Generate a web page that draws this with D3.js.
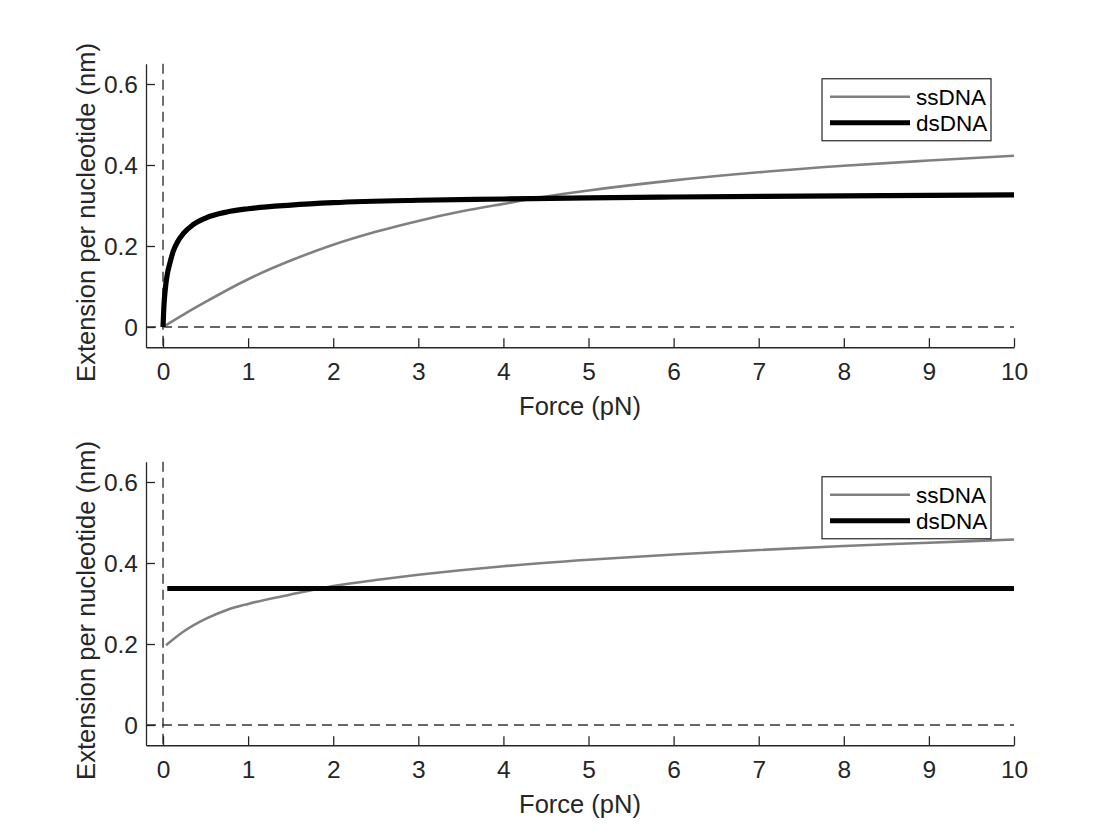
<!DOCTYPE html>
<html>
<head>
<meta charset="utf-8">
<script src="https://cdn.jsdelivr.net/npm/d3@7"></script>
<style>
  body { margin: 0; background: #fff; }
  svg { display: block; }
</style>
</head>
<body>
<div id="chart"></div>
<script>
// Extension per nucleotide vs force, two panels (ssDNA / dsDNA)

// Top panel: ssDNA curve
let ssForceTop = [0, 0.25, 0.5, 1, 1.5, 2, 2.5, 3, 3.5, 4, 4.5, 5, 6, 7, 8, 9, 10];
let ssExtTop = [0, 0.032, 0.062, 0.118, 0.164, 0.203, 0.235, 0.262, 0.285, 0.304, 0.322, 0.337, 0.362, 0.382, 0.398, 0.411, 0.423];

// Top panel: dsDNA curve
let dsForceTop = [0, 0.01, 0.025, 0.05, 0.08, 0.12, 0.17, 0.24, 0.35, 0.5, 0.75, 1, 1.5, 2, 3, 4, 5, 6, 8, 10];
let dsExtTop = [0, 0.05, 0.09, 0.13, 0.157, 0.187, 0.21, 0.231, 0.252, 0.269, 0.284, 0.292, 0.301, 0.307, 0.313, 0.316, 0.319, 0.321, 0.324, 0.326];

// Bottom panel: ssDNA curve
let ssForceBot = [0.035, 0.25, 0.5, 0.75, 1, 1.5, 2, 2.5, 3, 3.5, 4, 5, 6, 7, 8, 9, 10];
let ssExtBot = [0.197, 0.232, 0.262, 0.284, 0.299, 0.322, 0.343, 0.358, 0.371, 0.382, 0.392, 0.408, 0.421, 0.432, 0.442, 0.450, 0.458];

// Bottom panel: dsDNA is flat
let dsForceBot = [0.05, 10];
let dsExtBot = [0.337, 0.337];

// Axis ticks
let xTicks = [0, 1, 2, 3, 4, 5, 6, 7, 8, 9, 10];
let yTicks = [0, 0.2, 0.4, 0.6];
let seriesNames = ['ssDNA', 'dsDNA'];

let svgWidth = 1120;
let svgHeight = 840;

let axisColor = '#262626';
let fontFamily = '"Liberation Sans", Arial, Helvetica, sans-serif';

let svg = d3.select('#chart')
  .append('svg')
  .attr('width', svgWidth)
  .attr('height', svgHeight);

function drawPanel(top, ssF, ssE, dsF, dsE) {
  let left = 146;
  let width = 868;
  let height = 283.5;

  let g = svg.append('g')
    .attr('transform', `translate(${left}, ${top})`);

  let x = d3.scaleLinear().domain([-0.2, 10]).range([0, width]);
  let y = d3.scaleLinear().domain([-0.05, 0.65]).range([height, 0]);

  // dashed zero lines
  g.append('line')
    .attr('x1', x(0)).attr('x2', x(0))
    .attr('y1', 0).attr('y2', height)
    .attr('stroke', '#333').attr('stroke-width', 1.4)
    .attr('stroke-dasharray', '10,6');

  g.append('line')
    .attr('x1', 0).attr('x2', width)
    .attr('y1', y(0)).attr('y2', y(0))
    .attr('stroke', '#333').attr('stroke-width', 1.4)
    .attr('stroke-dasharray', '10,6');

  // axes, ticks point inward like matlab
  let xAxis = d3.axisBottom(x)
    .tickValues(xTicks)
    .tickSize(-9)
    .tickSizeOuter(0)
    .tickPadding(15)
    .tickFormat(d3.format('d'));

  let yAxis = d3.axisLeft(y)
    .tickValues(yTicks)
    .tickSize(-9)
    .tickSizeOuter(0)
    .tickPadding(8)
    .tickFormat(d => d === 0 ? '0' : d3.format('.1f')(d));

  let gx = g.append('g')
    .attr('transform', `translate(0, ${height})`)
    .call(xAxis);

  let gy = g.append('g')
    .call(yAxis);

  [gx, gy].forEach(a => {
    a.attr('font-family', fontFamily).attr('font-size', 24.5);
    a.select('.domain').attr('stroke', axisColor).attr('stroke-width', 1.3);
    a.selectAll('.tick line').attr('stroke', axisColor).attr('stroke-width', 1.3);
    a.selectAll('.tick text')
      .attr('fill', axisColor)
      .style('font-size', '24.5px');
  });
  gx.selectAll('.tick text').attr('dy', '0.71em');
  gy.selectAll('.tick text').attr('dy', '0.36em');

  // curves
  let ssData = ssF.map((f, i) => [f, ssE[i]]);
  let dsData = dsF.map((f, i) => [f, dsE[i]]);

  let line = d3.line()
    .x(d => x(d[0]))
    .y(d => y(d[1]))
    .curve(d3.curveMonotoneX);

  g.append('path')
    .datum(ssData)
    .attr('d', line)
    .attr('fill', 'none')
    .attr('stroke', '#808080')
    .attr('stroke-width', 2.6);

  g.append('path')
    .datum(dsData)
    .attr('d', line)
    .attr('fill', 'none')
    .attr('stroke', '#000')
    .attr('stroke-width', 5.2)
    .attr('stroke-linejoin', 'round');

  // axis labels
  g.append('text')
    .attr('x', width / 2)
    .attr('y', height + 68)
    .attr('text-anchor', 'middle')
    .attr('font-family', fontFamily)
    .attr('font-size', '25.5px')
    .attr('fill', axisColor)
    .text('Force (pN)');

  g.append('text')
    .attr('transform', `translate(${95 - left}, ${height / 2 + 7}) rotate(-90)`)
    .attr('text-anchor', 'middle')
    .attr('font-family', fontFamily)
    .attr('font-size', '25.5px')
    .attr('fill', axisColor)
    .text('Extension per nucleotide (nm)');

  // legend
  let legend = g.append('g')
    .attr('transform', `translate(${822 - left}, 15)`);

  legend.append('rect')
    .attr('width', 169)
    .attr('height', 62)
    .attr('fill', '#fff')
    .attr('stroke', axisColor)
    .attr('stroke-width', 1.2);

  let legendStyles = [
    { color: '#808080', w: 2.6 },
    { color: '#000', w: 5.2 }
  ];

  seriesNames.forEach((name, i) => {
    let yy = 18 + i * 26;
    legend.append('line')
      .attr('x1', 8).attr('x2', 88)
      .attr('y1', yy).attr('y2', yy)
      .attr('stroke', legendStyles[i].color)
      .attr('stroke-width', legendStyles[i].w);
    legend.append('text')
      .attr('x', 94)
      .attr('y', yy)
      .attr('dy', '0.36em')
      .attr('font-family', fontFamily)
      .attr('font-size', '22.5px')
      .attr('fill', '#000')
      .text(name);
  });
}

drawPanel(63.75, ssForceTop, ssExtTop, dsForceTop, dsExtTop);
drawPanel(461.75, ssForceBot, ssExtBot, dsForceBot, dsExtBot);
</script>
</body>
</html>
